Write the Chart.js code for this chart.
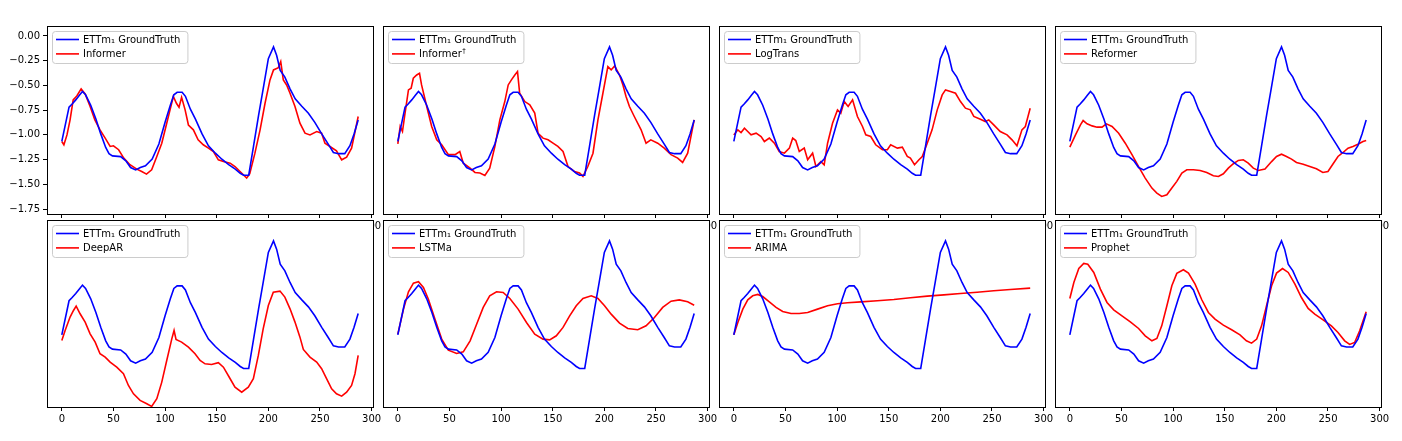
<!DOCTYPE html>
<html>
<head>
<meta charset="UTF-8">
<title>ETTm1 GroundTruth vs models</title>
<script src="https://cdn.jsdelivr.net/npm/chart.js"></script>
<style>
  body { margin: 0; background: #fff; width: 1402px; height: 441px; overflow: hidden; position: relative; }
  canvas { position: absolute; }
</style>
</head>
<body>
<script>
// ground truth, [step, value]
const groundTruth = [[0,-1.066],[7,-0.72],[10,-0.687],[13.5,-0.646],[17,-0.60],[20,-0.561],[23,-0.595],[28,-0.70],[33,-0.84],[37.7,-0.99],
  [42.5,-1.127],[45.7,-1.19],[49,-1.212],[57,-1.22],[62,-1.262],[66.6,-1.33],[71.5,-1.354],[76,-1.33],[81,-1.313],[87.5,-1.245],
  [94,-1.093],[100,-0.873],[105,-0.703],[108.5,-0.595],[111.7,-0.569],[116.5,-0.569],[119.7,-0.61],[124.5,-0.74],[129.4,-0.84],[135.8,-0.99],
  [142,-1.11],[148.7,-1.185],[155,-1.246],[161.6,-1.30],[168,-1.347],[172.8,-1.388],[176,-1.408],[181,-1.408],[185.7,-1.11],[190.5,-0.805],
  [195,-0.534],[200,-0.229],[205,-0.111],[208,-0.195],[211.5,-0.348],[216,-0.416],[221,-0.534],[226,-0.636],[232.4,-0.711],[238.8,-0.782],
  [245,-0.873],[251.7,-0.99],[258,-1.093],[263,-1.178],[268,-1.19],[274,-1.19],[279,-1.11],[283,-0.99],[287,-0.85]];

const informer = [[0,-1.067],[2,-1.10],[5,-1.00],[8,-0.848],[11,-0.646],[14.5,-0.606],[18.7,-0.535],[22.6,-0.586],[27.4,-0.713],[32,-0.848],
  [37,-0.949],[42,-1.033],[46.8,-1.117],[50,-1.11],[55,-1.15],[60,-1.235],[66,-1.302],[72.6,-1.346],[77.4,-1.37],[82,-1.397],
  [87,-1.353],[92,-1.218],[96.8,-1.084],[101.6,-0.882],[104.8,-0.747],[108,-0.612],[111,-0.68],[113.5,-0.72],[116,-0.62],[119.4,-0.747],
  [122.6,-0.90],[127.4,-0.949],[132,-1.05],[137,-1.10],[142,-1.134],[146.8,-1.168],[151.6,-1.252],[156.5,-1.27],[163,-1.286],[167.7,-1.32],
  [172.6,-1.37],[179,-1.437],[182,-1.393],[187,-1.185],[192,-0.949],[196.8,-0.68],[201.6,-0.444],[205,-0.343],[209.7,-0.32],[212,-0.259],
  [214.5,-0.444],[217.7,-0.495],[221,-0.579],[225.8,-0.713],[230.6,-0.882],[235.5,-0.983],[240.3,-1.00],[246.8,-0.966],[251.6,-0.983],[254.8,-1.084],
  [259.7,-1.117],[266,-1.161],[271,-1.252],[275.8,-1.225],[280.6,-1.134],[287,-0.814]];

const informerDagger = [[0,-1.09],[2.3,-0.915],[4.5,-0.966],[7,-0.78],[10.3,-0.545],[12.9,-0.528],[15,-0.427],[18.3,-0.394],[21,-0.377],[23,-0.495],
  [28,-0.713],[32.8,-0.915],[37.7,-1.05],[42.5,-1.10],[49,-1.20],[55.4,-1.20],[60,-1.168],[63.4,-1.286],[70,-1.336],[74.7,-1.38],
  [79.5,-1.386],[84.3,-1.41],[89,-1.336],[94,-1.117],[98.8,-0.848],[103.6,-0.663],[106.9,-0.495],[110,-0.444],[113.3,-0.394],[115.9,-0.36],
  [118,-0.579],[123,-0.663],[127.8,-0.697],[132.6,-0.78],[135.8,-0.983],[140.6,-1.033],[145.5,-1.05],[150.3,-1.084],[155,-1.117],[160,-1.168],
  [164.8,-1.32],[171,-1.37],[176,-1.386],[179.3,-1.42],[184,-1.32],[189,-1.185],[193.8,-0.848],[198.6,-0.579],[203.4,-0.31],[206.6,-0.343],
  [210,-0.303],[214.7,-0.394],[218,-0.495],[221,-0.612],[224.3,-0.713],[229,-0.814],[235.6,-0.949],[240.4,-1.084],[245,-1.05],[251.7,-1.084],
  [258,-1.134],[264.6,-1.20],[271,-1.235],[275.8,-1.279],[280.7,-1.185],[287,-0.848]];

const logTrans = [[0,-1.00],[3.9,-0.949],[7,-0.976],[10.3,-0.932],[13.5,-0.966],[16.7,-1.00],[21.6,-0.983],[26.4,-1.016],[29.6,-1.067],[34.4,-1.033],
  [39.3,-1.084],[44,-1.168],[49,-1.185],[53.8,-1.134],[57,-1.033],[60,-1.057],[63.4,-1.168],[68.2,-1.134],[71.5,-1.252],[76.3,-1.185],
  [79.5,-1.32],[84.3,-1.27],[87.5,-1.302],[90.8,-1.084],[95.6,-0.882],[100.4,-0.747],[103.6,-0.78],[106.9,-0.663],[110.7,-0.713],[115,-0.646],
  [119.7,-0.814],[124.6,-0.915],[127.8,-1.00],[132.6,-1.016],[137.4,-1.10],[143.9,-1.15],[148.7,-1.15],[151.9,-1.10],[158.4,-1.134],[163.2,-1.124],
  [168,-1.218],[171,-1.235],[175,-1.302],[179.3,-1.252],[182.5,-1.218],[187.3,-1.084],[192,-0.949],[197,-0.747],[201.8,-0.596],[205,-0.545],
  [209.8,-0.562],[214.7,-0.579],[219.5,-0.663],[224.3,-0.73],[229,-0.747],[232.4,-0.814],[238.8,-0.841],[243.6,-0.865],[246.9,-0.848],[251.7,-0.899],
  [258,-0.966],[264.6,-1.00],[269.4,-1.05],[274.2,-1.11],[279,-0.949],[282.3,-0.915],[287,-0.73]];

const reformer = [[0,-1.124],[5.5,-1.00],[10.3,-0.899],[12.9,-0.855],[16.7,-0.888],[21.6,-0.909],[26.4,-0.922],[31.2,-0.922],[35.4,-0.888],[40.9,-0.915],
  [47.3,-0.983],[53.7,-1.084],[60.2,-1.20],[66.6,-1.32],[73,-1.437],[79.5,-1.538],[84.3,-1.588],[89,-1.622],[94,-1.605],[98.8,-1.538],
  [103.6,-1.47],[108.5,-1.386],[113.3,-1.353],[119.7,-1.353],[126.2,-1.36],[132.6,-1.38],[139,-1.414],[143.9,-1.42],[148.7,-1.393],[153.5,-1.336],
  [158.4,-1.292],[163.2,-1.258],[168,-1.252],[172.8,-1.286],[177.7,-1.336],[182.5,-1.36],[189,-1.346],[195.4,-1.27],[200.2,-1.218],[205,-1.195],
  [209.8,-1.218],[214.7,-1.245],[219.5,-1.279],[226,-1.296],[232.4,-1.32],[238.8,-1.343],[245,-1.38],[250,-1.37],[255,-1.292],[259.7,-1.218],
  [264.6,-1.178],[269.4,-1.134],[274.2,-1.117],[279,-1.094],[283.9,-1.067],[287,-1.057]];

const deepAR = [[0,-1.124],[3.2,-1.022],[8,-0.886],[11.3,-0.819],[13.9,-0.775],[17.7,-0.852],[22.6,-0.937],[27.4,-1.056],[32.3,-1.14],[37,-1.259],
  [42,-1.293],[46.8,-1.344],[53.2,-1.395],[59.7,-1.462],[64.5,-1.581],[69.4,-1.666],[75.8,-1.733],[82.3,-1.767],[87,-1.794],[92,-1.716],
  [96.8,-1.547],[101.6,-1.327],[106.5,-1.107],[108.7,-1.022],[110.6,-1.113],[116,-1.14],[122.6,-1.191],[129,-1.259],[133.9,-1.327],[138.7,-1.361],
  [145,-1.368],[151.6,-1.35],[156.5,-1.395],[163,-1.513],[167.7,-1.598],[174.2,-1.649],[180.6,-1.598],[185.5,-1.513],[190.3,-1.276],[195,-1.005],
  [200,-0.768],[204.8,-0.633],[211.3,-0.622],[216,-0.683],[221,-0.802],[225.8,-0.937],[230.6,-1.09],[233.9,-1.215],[240.3,-1.293],[246.8,-1.344],
  [251.6,-1.411],[256.5,-1.513],[261.3,-1.615],[266,-1.666],[271,-1.69],[275.8,-1.649],[280.6,-1.581],[283.9,-1.462],[287,-1.276]];

const lstma = [[0,-1.059],[5.5,-0.805],[10.3,-0.629],[15.1,-0.541],[20,-0.527],[24.8,-0.585],[29.6,-0.704],[36,-0.907],[42.5,-1.11],[48.9,-1.222],
  [57,-1.256],[63.4,-1.239],[70,-1.127],[76.3,-0.958],[82.7,-0.788],[89,-0.67],[95.6,-0.629],[102,-0.636],[108.5,-0.697],[116.5,-0.805],
  [124.6,-0.941],[132.6,-1.059],[140.6,-1.11],[147,-1.117],[153.5,-1.076],[160,-0.991],[166.4,-0.873],[172.8,-0.771],[179.3,-0.697],[187.3,-0.67],
  [193.8,-0.697],[200.2,-0.771],[206.6,-0.856],[214.7,-0.947],[222.7,-1.002],[232.4,-1.015],[240.4,-0.975],[248.5,-0.89],[256.5,-0.788],[264.6,-0.724],
  [272.6,-0.711],[280.7,-0.731],[287,-0.765]];

const arima = [[0,-1.066],[3.9,-0.941],[8.7,-0.805],[13.5,-0.711],[18.3,-0.67],[23.2,-0.656],[28,-0.677],[34.4,-0.731],[40.9,-0.788],[47.3,-0.829],
  [55.4,-0.849],[63.4,-0.849],[71.5,-0.839],[81.1,-0.805],[90.8,-0.771],[100.4,-0.751],[110,-0.741],[123,-0.731],[139,-0.72],[155,-0.707],
  [171,-0.69],[187.3,-0.673],[203.4,-0.66],[219.5,-0.646],[235.6,-0.633],[251.7,-0.619],[267.8,-0.605],[287,-0.592]];

const prophet = [[0,-0.697],[3.9,-0.534],[8.7,-0.392],[13.5,-0.341],[17.4,-0.348],[23.2,-0.432],[29.6,-0.602],[36,-0.737],[42.5,-0.812],[50.5,-0.873],
  [58.6,-0.934],[66.6,-1.002],[73,-1.076],[79.5,-1.127],[84.3,-1.103],[89,-0.975],[94,-0.771],[98.8,-0.568],[103.6,-0.442],[110,-0.405],
  [114.9,-0.439],[121.3,-0.551],[127.8,-0.71],[134.2,-0.839],[140.6,-0.907],[148.7,-0.968],[156.7,-1.015],[164.8,-1.066],[171,-1.127],[176,-1.151],
  [181,-1.11],[185.7,-0.975],[190.5,-0.771],[195.4,-0.568],[200.2,-0.439],[206,-0.392],[211.5,-0.432],[218,-0.551],[224.3,-0.687],[230.8,-0.798],
  [237.2,-0.856],[245.3,-0.914],[253.3,-0.975],[259.7,-1.042],[266.2,-1.127],[271,-1.164],[275.8,-1.144],[280.7,-1.025],[287,-0.832]];

const modelNames = ['Informer', 'Informer\u2020', 'LogTrans', 'Reformer', 'DeepAR', 'LSTMa', 'ARIMA', 'Prophet'];
const modelSeries = [informer, informerDagger, logTrans, reformer, deepAR, lstma, arima, prophet];
const gtLabel = 'ETTm\u2081 GroundTruth';
const xTicks = [0, 50, 100, 150, 200, 250, 300];
const yTicks = [0, -0.25, -0.5, -0.75, -1.0, -1.25, -1.5, -1.75];

const FONT = '"DejaVu Sans", sans-serif';

// frame, white plot background and matplotlib-like legend
const panelPlugin = {
  id: 'panelPlugin',
  beforeDraw(chart) {
    const a = chart.chartArea, ctx = chart.ctx;
    ctx.save();
    ctx.fillStyle = '#fff';
    ctx.fillRect(a.left, a.top, a.right - a.left, a.bottom - a.top);
    ctx.restore();
  },
  afterDraw(chart) {
    const a = chart.chartArea, ctx = chart.ctx;
    ctx.save();
    ctx.strokeStyle = '#000';
    ctx.lineWidth = 1;
    ctx.strokeRect(Math.round(a.left) + 0.5, Math.round(a.top) + 0.5,
                   Math.round(a.right - a.left), Math.round(a.bottom - a.top));

    // legend
    const name = chart.options.plugins.panelPlugin.name;
    ctx.font = '10px ' + FONT;
    const w0 = ctx.measureText(gtLabel).width;
    const bx = a.left + 5.5, by = a.top + 5.5, bw = Math.max(w0, 60) + 38, bh = 32;
    ctx.beginPath();
    ctx.roundRect(bx, by, bw, bh, 3);
    ctx.fillStyle = 'rgba(255,255,255,0.8)';
    ctx.fill();
    ctx.strokeStyle = '#cccccc';
    ctx.stroke();
    const rows = [[gtLabel, '#0000ff'], [name, '#ff0000']];
    rows.forEach((r, i) => {
      const cy = a.top + 13.5 + i * 14.4;
      ctx.strokeStyle = r[1];
      ctx.lineWidth = 1.6;
      ctx.beginPath();
      ctx.moveTo(a.left + 9, cy);
      ctx.lineTo(a.left + 32, cy);
      ctx.stroke();
      ctx.fillStyle = '#000';
      ctx.textBaseline = 'middle';
      let label = r[0];
      const dagger = label.endsWith('\u2020');
      if (dagger) label = label.slice(0, -1);
      ctx.font = '10px ' + FONT;
      ctx.fillText(label, a.left + 36, cy + 0.5);
      if (dagger) {
        const lw = ctx.measureText(label).width;
        ctx.font = '7px ' + FONT;
        ctx.fillText('\u2020', a.left + 36 + lw + 0.5, cy - 3);
      }
    });
    ctx.restore();
  }
};

function makePanel(i) {
  const col = i % 4, row = Math.floor(i / 4);
  const plotL = 47 + col * 336, plotW = 326;
  const plotT = row === 0 ? 26 : 220, plotB = row === 0 ? 214 : 407;
  const showY = i === 0;
  const padL = showY ? 47 : 10, padR = 14, padT = 4, axisH = 20;
  const cv = document.createElement('canvas');
  const W = padL + plotW + padR, H = padT + (plotB - plotT) + axisH;
  cv.width = W; cv.height = H;
  cv.style.width = W + 'px'; cv.style.height = H + 'px';
  cv.style.left = (plotL - padL) + 'px';
  cv.style.top = (plotT - padT) + 'px';
  cv.style.zIndex = row + 1;
  document.body.appendChild(cv);

  const toPts = arr => arr.map(p => ({ x: p[0], y: p[1] }));
  new Chart(cv.getContext('2d'), {
    type: 'line',
    data: {
      datasets: [
        { label: gtLabel, data: toPts(groundTruth), borderColor: '#0000ff', borderWidth: 1.6, pointRadius: 0, tension: 0 },
        { label: modelNames[i], data: toPts(modelSeries[i]), borderColor: '#ff0000', borderWidth: 1.6, pointRadius: 0, tension: 0 }
      ]
    },
    options: {
      responsive: false,
      animation: false,
      devicePixelRatio: 1,
      layout: { padding: { left: showY ? 0 : padL, right: padR, top: padT, bottom: 0 } },
      plugins: {
        legend: { display: false },
        tooltip: { enabled: false },
        panelPlugin: { name: modelNames[i] }
      },
      scales: {
        x: {
          type: 'linear', min: -14.35, max: 301.35,
          afterBuildTicks: s => { s.ticks = xTicks.map(v => ({ value: v })); },
          afterFit: s => { s.height = axisH; s.paddingLeft = 0; s.paddingRight = 0; },
          border: { display: false },
          grid: { display: true, drawOnChartArea: false, drawTicks: true, tickLength: 4, color: '#000', tickColor: '#000' },
          ticks: { font: { family: FONT, size: 10 }, color: '#000', padding: 2, maxRotation: 0, autoSkip: false }
        },
        y: {
          display: showY,
          min: -1.80, max: 0.101,
          afterBuildTicks: s => { s.ticks = yTicks.map(v => ({ value: v })); },
          afterFit: s => { s.width = showY ? padL : 0; s.paddingTop = 0; s.paddingBottom = 0; },
          border: { display: false },
          grid: { display: true, drawOnChartArea: false, drawTicks: true, tickLength: 4, color: '#000', tickColor: '#000' },
          ticks: {
            font: { family: FONT, size: 10 }, color: '#000', padding: 3, autoSkip: false,
            callback: v => v.toFixed(2).replace('-', '\u2212')
          }
        }
      }
    },
    plugins: [panelPlugin]
  });
}

for (let i = 0; i < 8; i++) makePanel(i);
</script>
</body>
</html>
